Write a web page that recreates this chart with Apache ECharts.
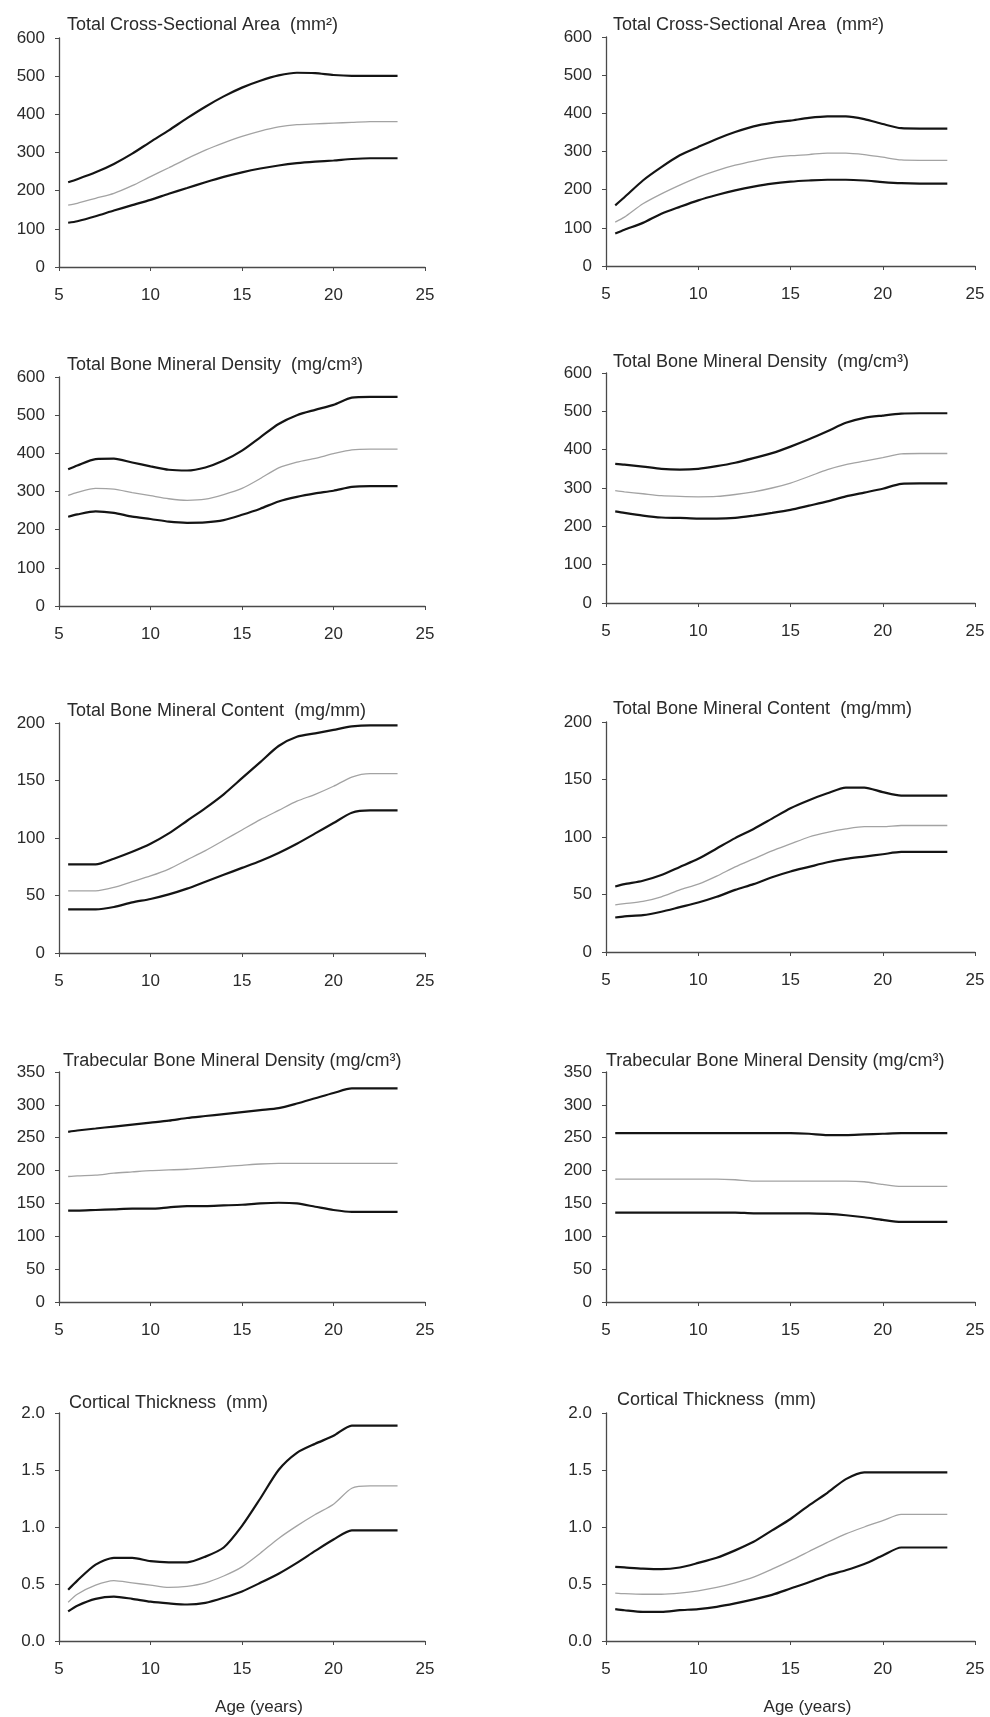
<!DOCTYPE html>
<html>
<head>
<meta charset="utf-8">
<script src="https://cdn.jsdelivr.net/npm/echarts@6/dist/echarts.min.js"></script>
<style>
html,body{margin:0;padding:0;background:#fff;}
#chart{width:990px;height:1717px;}
</style>
</head>
<body>
<div id="chart"></div>
<script>
// ---- data ----
const ages = [5.5,6,7,8,9,10,11,12,13,14,15,16,17,18,19,20,21,22,23,23.5];

const titles = [
  'Total Cross-Sectional Area  (mm²)',
  'Total Bone Mineral Density  (mg/cm³)',
  'Total Bone Mineral Content  (mg/mm)',
  'Trabecular Bone Mineral Density (mg/cm³)',
  'Cortical Thickness  (mm)'
];
const yMax = [600, 600, 200, 350, 2.0];
const yStep = [100, 100, 50, 50, 0.5];
const xTicks = [5, 10, 15, 20, 25];
const xTitle = 'Age (years)';

// Left column
const csaLeftUpper  = [222,230,248,270,297,328,358,390,420,447,470,488,502,509,508,503,501,501,501,501];
const csaLeftMiddle = [162,167,180,193,213,237,260,284,306,325,342,356,367,373,375,377,379,381,381,381];
const csaLeftLower  = [116,120,133,148,162,176,192,207,222,236,248,258,266,272,276,279,283,285,285,285];

const bmdLeftUpper  = [358,368,385,386,376,366,357,355,363,381,407,442,477,500,514,527,546,548,548,548];
const bmdLeftMiddle = [290,298,308,306,297,289,281,277,280,292,308,334,362,377,387,399,409,411,411,411];
const bmdLeftLower  = [234,240,248,244,234,228,221,218,219,225,239,255,274,286,295,302,312,314,314,314];

const bmcLeftUpper  = [77,77,77,82,88,95,104,115,126,138,152,166,180,188,191,194,197,198,198,198];
const bmcLeftMiddle = [54,54,54,57,62,67,73,81,89,98,107,116,124,132,138,145,153,156,156,156];
const bmcLeftLower  = [38,38,38,40,44,47,51,56,62,68,74,80,87,95,104,113,122,124,124,124];

const trabLeftUpper  = [259,261,264,267,270,273,276,280,283,286,289,292,295,302,310,318,325,325,325,325];
const trabLeftMiddle = [191,192,193,196,198,200,201,202,204,206,208,210,211,211,211,211,211,211,211,211];
const trabLeftLower  = [139,139,140,141,142,142,144,146,146,147,148,150,151,150,145,140,137,137,137,137];

const ctLeftUpper  = [0.45,0.53,0.67,0.73,0.73,0.70,0.69,0.69,0.74,0.82,1.01,1.25,1.50,1.65,1.73,1.80,1.89,1.89,1.89,1.89];
const ctLeftMiddle = [0.34,0.41,0.49,0.53,0.51,0.49,0.47,0.48,0.51,0.57,0.65,0.77,0.90,1.01,1.11,1.20,1.34,1.36,1.36,1.36];
const ctLeftLower  = [0.26,0.31,0.37,0.39,0.37,0.345,0.33,0.32,0.335,0.38,0.435,0.51,0.59,0.685,0.79,0.89,0.97,0.97,0.97,0.97];

// Right column
const csaRightUpper  = [159,180,224,259,290,312,333,351,366,375,381,388,392,392,385,372,361,360,360,360];
const csaRightMiddle = [115,128,163,189,212,233,250,264,275,284,289,292,296,296,292,285,278,277,277,277];
const csaRightLower  = [85,95,113,137,155,172,186,198,208,216,221,224,226,226,224,220,217,216,216,216];

const bmdRightUpper  = [363,361,356,350,348,350,357,366,378,391,408,427,448,470,483,489,494,495,495,495];
const bmdRightMiddle = [293,290,285,280,278,277,278,283,290,300,313,330,348,361,370,379,389,390,390,390];
const bmdRightLower  = [239,235,228,223,222,220,220,222,228,235,243,254,265,278,288,298,311,312,312,312];

const bmcRightUpper  = [57,59,62,67,74,81,90,99,107,116,125,132,138,143,143,139,136,136,136,136];
const bmcRightMiddle = [41,42,44,48,54,59,66,74,81,88,94,100,104,107,109,109,110,110,110,110];
const bmcRightLower  = [30,31,32,35,39,43,48,54,59,65,70,74,78,81,83,85,87,87,87,87];

const trabRightUpper  = [257,257,257,257,257,257,257,257,257,257,257,256,254,254,255,256,257,257,257,257];
const trabRightMiddle = [187,187,187,187,187,187,187,186,184,184,184,184,184,184,183,179,176,176,176,176];
const trabRightLower  = [136,136,136,136,136,136,136,136,135,135,135,135,134,132,129,125,122,122,122,122];

const ctRightUpper  = [0.65,0.645,0.635,0.63,0.645,0.685,0.73,0.795,0.87,0.97,1.07,1.19,1.30,1.42,1.48,1.48,1.48,1.48,1.48,1.48];
const ctRightMiddle = [0.42,0.415,0.41,0.41,0.42,0.44,0.47,0.51,0.56,0.63,0.705,0.785,0.865,0.94,1.0,1.055,1.11,1.11,1.11,1.11];
const ctRightLower  = [0.28,0.27,0.256,0.256,0.27,0.28,0.30,0.33,0.365,0.405,0.46,0.515,0.575,0.62,0.675,0.75,0.82,0.82,0.82,0.82];

const panels = [
  [[csaLeftUpper, csaLeftMiddle, csaLeftLower], [csaRightUpper, csaRightMiddle, csaRightLower]],
  [[bmdLeftUpper, bmdLeftMiddle, bmdLeftLower], [bmdRightUpper, bmdRightMiddle, bmdRightLower]],
  [[bmcLeftUpper, bmcLeftMiddle, bmcLeftLower], [bmcRightUpper, bmcRightMiddle, bmcRightLower]],
  [[trabLeftUpper, trabLeftMiddle, trabLeftLower], [trabRightUpper, trabRightMiddle, trabRightLower]],
  [[ctLeftUpper, ctLeftMiddle, ctLeftLower], [ctRightUpper, ctRightMiddle, ctRightLower]]
];

// ---- layout ----
const gridPos = [
  [{left:59, top:38, width:366, height:229}, {left:606, top:37, width:369, height:229}],
  [{left:59, top:377, width:366, height:229}, {left:606, top:373, width:369, height:230}],
  [{left:59, top:723, width:366, height:230}, {left:606, top:722, width:369, height:230}],
  [{left:59, top:1072, width:366, height:230}, {left:606, top:1072, width:369, height:230}],
  [{left:59, top:1413, width:366, height:233}, {left:606, top:1413, width:369, height:230}]
];
const titlePos = [
  [{left:62, top:11}, {left:608, top:11}],
  [{left:62, top:351}, {left:608, top:348}],
  [{left:62, top:697}, {left:608, top:695}],
  [{left:58, top:1047}, {left:601, top:1047}],
  [{left:64, top:1389}, {left:612, top:1386}]
];

const FONT = '"Liberation Sans", Arial, sans-serif';
const axisColor = '#4a4a4a';
const labelColor = '#2a2a2a';

const option = {
  backgroundColor: '#ffffff',
  animation: false,
  title: [], grid: [], xAxis: [], yAxis: [], series: []
};

let gi = 0;
for (let r = 0; r < 5; r++) {
  for (let c = 0; c < 2; c++) {
    option.title.push({
      text: titles[r], left: titlePos[r][c].left, top: titlePos[r][c].top,
      textStyle: {fontFamily: FONT, fontSize: 18, fontWeight: 'normal', color: '#2a2a2a'}
    });
    option.grid.push(Object.assign({containLabel: false}, gridPos[r][c]));
    const isBottom = r === 4;
    option.xAxis.push({
      type: 'value', gridIndex: gi, min: xTicks[0], max: xTicks[xTicks.length - 1], interval: 5,
      axisLine: {show: true, onZero: false, lineStyle: {color: axisColor, width: 1.3}},
      axisTick: {show: true, length: 4, inside: false, lineStyle: {color: axisColor}},
      axisLabel: {fontFamily: FONT, fontSize: 17, color: labelColor, margin: 20},
      splitLine: {show: false},
      name: isBottom ? xTitle : '',
      nameLocation: 'middle', nameGap: 58,
      nameTextStyle: {fontFamily: FONT, fontSize: 17, color: labelColor, padding: [0, 0, 0, 34]}
    });
    option.yAxis.push({
      type: 'value', gridIndex: gi, min: 0, max: yMax[r], interval: yStep[r],
      axisLine: {show: true, lineStyle: {color: axisColor, width: 1.3}},
      axisTick: {show: true, length: 4, inside: false, lineStyle: {color: axisColor}},
      axisLabel: {fontFamily: FONT, fontSize: 17, color: labelColor, margin: 14,
        formatter: r === 4 ? (v => v.toFixed(1)) : (v => String(v))},
      splitLine: {show: false}
    });
    const sets = panels[r][c];
    const styles = [
      {color: '#141414', width: 2.2},
      {color: '#a3a3a3', width: 1.3},
      {color: '#141414', width: 2.2}
    ];
    sets.forEach((vals, k) => {
      option.series.push({
        type: 'line', xAxisIndex: gi, yAxisIndex: gi,
        data: ages.map((a, i) => [a, vals[i]]),
        showSymbol: false, symbol: 'none', smooth: 0.25,
        lineStyle: styles[k], silent: true
      });
    });
    gi++;
  }
}

const chart = echarts.init(document.getElementById('chart'), null, {renderer: 'canvas'});
chart.setOption(option);
</script>
</body>
</html>
